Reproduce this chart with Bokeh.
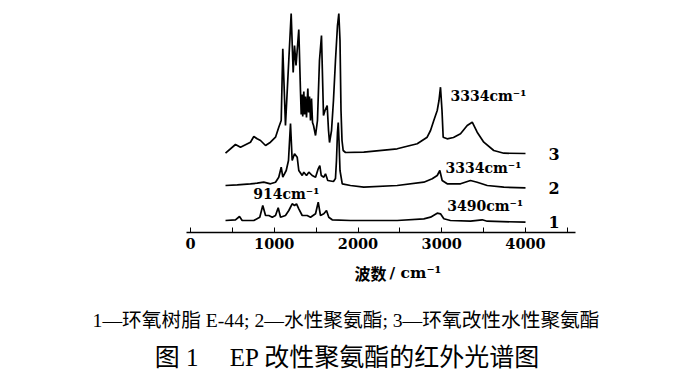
from bokeh.plotting import figure
from bokeh.models import Range1d, FixedTicker, Label
from bokeh.layouts import column
from bokeh.embed import file_html
from bokeh.resources import INLINE

# ---- data (wavenumber, stacked intensity) ----
# curve 1: epoxy resin E-44
wn1 = [418, 537, 585, 617, 756, 827, 863, 896, 935, 976, 1015, 1047, 1075, 1134, 1174,
       1214, 1242, 1266, 1293, 1334, 1393, 1433, 1493, 1525, 1552, 1592, 1624, 1651, 1692,
       1910, 2468, 2786, 2866, 2946, 2985, 3025, 3104, 3343, 3483, 3543, 4000]
h1 = [12, 12.7, 16, 12, 12, 15.3, 27, 17, 17, 15.3, 17, 24.7, 15.3, 17, 22,
      28.7, 27, 28.7, 23.7, 17, 17, 15.3, 18.7, 30.3, 17, 18.7, 22, 15.3, 12.7,
      12, 12, 13.7, 15.3, 19.3, 18.7, 13.7, 12, 11.3, 12.7, 11.3, 10.3]

# curve 2: waterborne polyurethane
wn2 = [418, 558, 716, 796, 875, 955, 1015, 1054, 1083, 1102, 1143, 1170, 1194, 1214, 1242,
       1274, 1293, 1334, 1353, 1385, 1413, 1453, 1493, 1525, 1544, 1561, 1592, 1612, 1639,
       1707, 1731, 1743, 1755, 1764, 1773, 1785, 1812, 1910, 2069, 2468, 2786, 2886, 2946,
       2977, 3005, 3065, 3224, 3343, 3423, 3543, 3741, 4000]
h2 = [47, 47.7, 48.7, 49.3, 50.3, 48.7, 50.3, 55.3, 65.3, 55.3, 62, 72, 109, 72, 78.7,
      75.3, 62, 57, 60.3, 57, 60.3, 57, 55.3, 63.7, 67, 57, 55.3, 58.7, 52,
      51, 54, 72, 100, 110, 92, 62, 48.7, 47, 45.3, 47, 50.3, 53.7, 57,
      62, 52, 48.7, 48.7, 52, 50.3, 47, 45.3, 44.7]

# curve 3: epoxy-modified waterborne polyurethane
wn3 = [418, 537, 597, 716, 756, 796, 836, 896, 955, 1015, 1054, 1083, 1102, 1134, 1202,
       1226, 1242, 1260, 1293, 1313, 1322, 1331, 1340, 1353, 1362, 1373, 1385, 1401, 1410,
       1421, 1433, 1445, 1457, 1469, 1493, 1516, 1540, 1564, 1588, 1606, 1632, 1648, 1660,
       1684, 1707, 1731, 1755, 1771, 1785, 1797, 1809, 1823, 1851, 2069, 2468, 2707, 2826,
       2866, 2905, 2946, 2967, 2985, 3003, 3017, 3065, 3140, 3224, 3304, 3364, 3423, 3502,
       3621, 3741, 4000]
h3 = [79.3, 88, 85.3, 90.3, 96, 93.7, 92, 87, 90.3, 95.3, 105.3, 112, 183.7, 107, 219,
      160, 187, 167, 203, 142, 118, 138, 116, 141, 118, 136, 115, 144, 120,
      136, 112, 134, 110, 107, 97, 112, 172, 197, 117, 122, 127, 102, 90,
      102, 132, 172, 207, 219, 192, 122, 92, 82, 80, 80.3, 83.7, 88.7, 95.3,
      102, 112, 122, 132, 145.3, 122, 95.3, 93.7, 95, 98.7, 107, 110.3, 100.3, 90.3,
      82, 79.3, 79]

major_ticks = [0, 1000, 2000, 3000, 4000]
minor_ticks = [500, 1500, 2500, 3500, 4500]

curve_ids = ["3", "2", "1"]
peak_notes = ["3334cm\u207b\u00b9", "3334cm\u207b\u00b9", "3490cm\u207b\u00b9", "914cm\u207b\u00b9"]
xlabel_cjk = "波数"
xlabel_unit = "/ cm\u207b\u00b9"
caption1 = "1\u2014环氧树脂 E-44; 2\u2014水性聚氨酯; 3\u2014环氧改性水性聚氨酯"
caption2 = "图 1\u2003 EP 改性聚氨酯的红外光谱图"

W = 683
X_RANGE = (-2268.7, 5886.6)

# ---- spectrum figure ----
p = figure(width=W, height=258, output_backend="svg", toolbar_location=None,
           x_range=Range1d(*X_RANGE), y_range=Range1d(0, 232),
           x_axis_location="below", y_axis_location=None,
           min_border_left=0, min_border_right=0, min_border_top=0, min_border_bottom=26)
p.outline_line_color = None
p.xgrid.visible = False
p.ygrid.visible = False

ax = p.xaxis[0]
ax.ticker = FixedTicker(ticks=major_ticks, minor_ticks=minor_ticks)
ax.bounds = (-45, 4600)
ax.axis_line_color = "black"
ax.axis_line_width = 1.3
ax.major_tick_in = 5
ax.major_tick_out = 0
ax.minor_tick_in = 5
ax.minor_tick_out = 0
ax.major_tick_line_color = "black"
ax.minor_tick_line_color = "black"
ax.major_label_text_font = "DejaVu Serif"
ax.major_label_text_font_style = "bold"
ax.major_label_text_font_size = "14.5px"
ax.major_label_text_color = "black"
ax.major_label_standoff = 5

for wn, h in [(wn1, h1), (wn2, h2), (wn3, h3)]:
    p.line(wn, h, line_color="black", line_width=1.7)


def lab(fig, x, y, text, font="DejaVu Serif", size="14px", style="bold", align="left"):
    fig.add_layout(Label(x=x, y=y, text=text, text_font=font, text_font_size=size,
                         text_font_style=style, text_align=align, text_baseline="middle",
                         text_color="black"))

# curve numbers
for cid, yy in zip(curve_ids, [79, 44.5, 11]):
    lab(p, 4275, yy, cid, size="16px")

# peak annotations
lab(p, 3104, 136.5, peak_notes[0])
lab(p, 3045, 65, peak_notes[1])
lab(p, 3065, 27, peak_notes[2])
lab(p, 749, 38.5, peak_notes[3])

# ---- caption figure (text only) ----
c = figure(width=W, height=120, output_backend="svg", toolbar_location=None,
           x_range=Range1d(*X_RANGE), y_range=Range1d(-146, -26),
           x_axis_location=None, y_axis_location=None,
           min_border_left=0, min_border_right=0, min_border_top=0, min_border_bottom=0)
c.outline_line_color = None
c.xgrid.visible = False
c.ygrid.visible = False

lab(c, 2340, -40, xlabel_cjk, font="Noto Sans CJK SC", size="16px", align="right")
lab(c, 2376, -40, xlabel_unit, font="DejaVu Serif", size="15.5px")
lab(c, 1857, -87, caption1, font="Liberation Serif, Noto Sans CJK SC", size="19.7px",
    style="normal", align="center")
lab(c, 1875, -125, caption2, font="Liberation Serif, Noto Sans CJK SC", size="25px",
    style="normal", align="center")

open("out.html", "w").write(file_html(column(p, c), INLINE))
